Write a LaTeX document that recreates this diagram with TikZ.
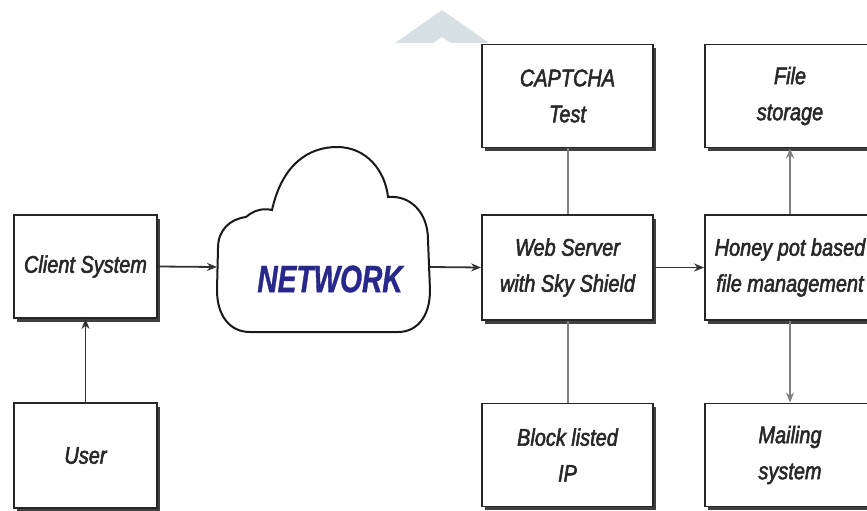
\documentclass[tikz,border=0pt]{standalone}
\usepackage{fontspec}
\usetikzlibrary{arrows.meta,shadows}
\newfontfamily\boxfont[FakeStretch=0.83,FakeBold=2.2]{Liberation Sans}
\newfontfamily\netfont[FakeStretch=0.74,FakeBold=1]{Liberation Sans}
\definecolor{netblue}{RGB}{40,40,140}
\definecolor{tri}{RGB}{214,223,228}
\definecolor{txt}{RGB}{40,40,40}
\tikzset{
  box/.style={draw=black!85, line width=1.8pt, fill=white, minimum width=171pt,
    minimum height=103pt, inner sep=0pt, align=center, text=txt,
    font=\boxfont\itshape\fontsize{24}{36}\selectfont,
    drop shadow={shadow xshift=3pt, shadow yshift=-3.5pt, fill=black!75, opacity=1}},
  conn/.style={line width=1.8pt, draw=black!80, -{Stealth[length=10pt,width=8pt]}},
  plain/.style={line width=2pt, draw=black!50},
  gconn/.style={line width=2pt, draw=black!50, -{Stealth[length=10pt,width=8pt,fill=black!80]}}
}
\begin{document}
\begin{tikzpicture}[x=1pt,y=-1pt]
\useasboundingbox (0,0) rectangle (867,511);
\clip (0,0) rectangle (867,511);
\fill[white] (0,0) rectangle (867,511);
% decorative triangle
\fill[tri] (395,43) -- (442,10) -- (489,43) -- (451,43) -- (442,37) -- (433,43) -- cycle;
% boxes
\node[box, minimum width=143pt] (client) at (85.5,266.5) {Client System};
\node[box, minimum width=143pt, minimum height=105pt] (user) at (85.5,455.5) {User};
\node[box] (captcha) at (567.5,96) {CAPTCHA\\Test};
\node[box, minimum height=105pt] (web) at (567.5,267.5) {Web Server\\with Sky Shield};
\node[box] (block) at (567.5,455) {Block listed\\IP};
\node[box, minimum width=170pt] (file) at (790,96) {File\\storage};
\node[box, minimum width=170pt, minimum height=105pt] (honey) at (790,267.5) {Honey pot based\\file management};
\node[box, minimum width=170pt] (mail) at (790,455) {Mailing\\system};
% cloud
\draw[line width=2pt, draw=black!90, fill=white] (217,290) -- (218,248)
  .. controls (218,230) and (230,219) .. (246,217)
  .. controls (254,210) and (263,208) .. (272,210)
  .. controls (282,165) and (308,147) .. (337,147)
  .. controls (366,147) and (385,170) .. (388,197)
  .. controls (410,195) and (428,212) .. (428,240)
  -- (430,290)
  .. controls (430,318) and (416,332) .. (398,332)
  -- (250,332)
  .. controls (230,332) and (217,316) .. (217,290) -- cycle;
\node[font=\netfont\bfseries\itshape\fontsize{38}{40}\selectfont, text=netblue] (net) at (330,279) {NETWORK};
\coordinate (netW) at (217,267);
\coordinate (netE) at (430,267);
% connectors
\draw[conn] (user.north) -- (client.south);
\draw[conn] (client.east) -- (netW);
\draw[conn] (netE) -- (web.west);
\draw[conn] (web.east) -- (honey.west);
\draw[plain] (captcha.south) -- (web.north);
\draw[plain] (web.south) -- (block.north);
\draw[gconn] (honey.north) -- (file.south);
\draw[gconn] (honey.south) -- (mail.north);
\end{tikzpicture}
\end{document}
